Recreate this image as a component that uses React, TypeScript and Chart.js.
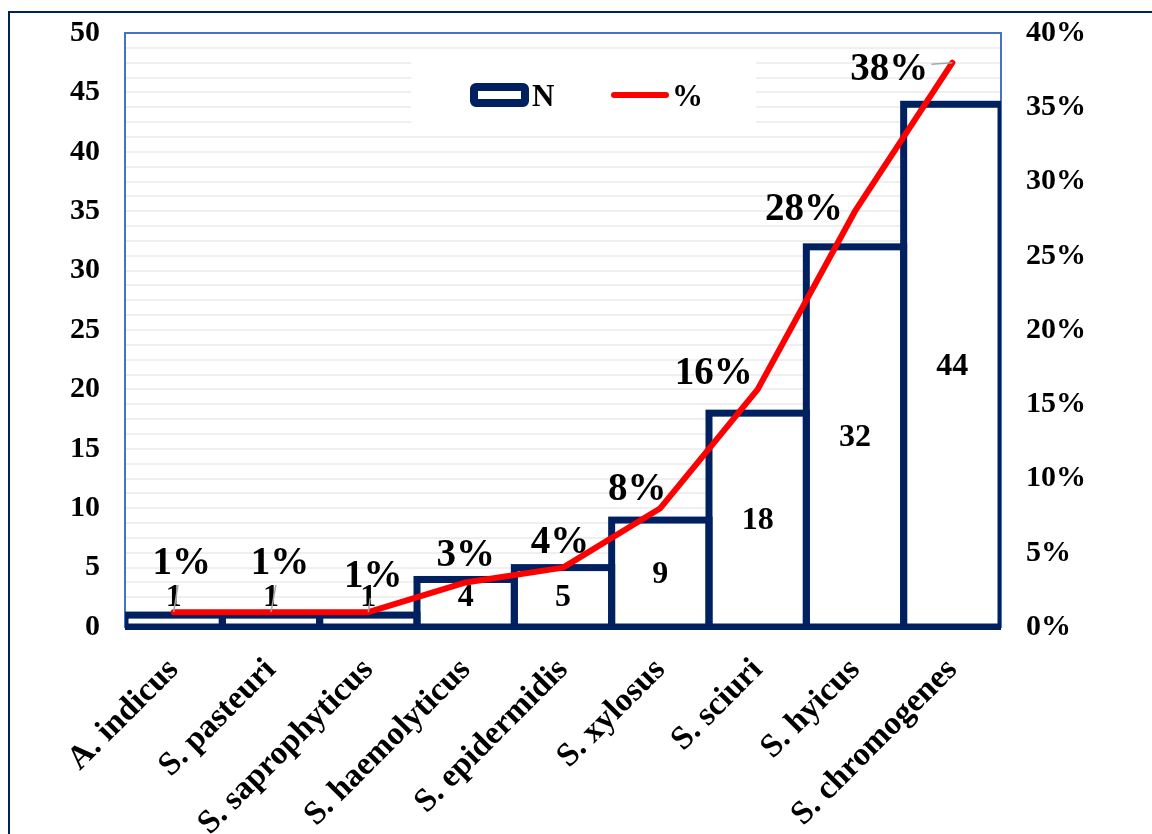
import React, { useEffect, useRef } from 'react';
import { Chart, registerables } from 'chart.js';

Chart.register(...registerables);

const categories = [
  'A. indicus',
  'S. pasteuri',
  'S. saprophyticus',
  'S. haemolyticus',
  'S. epidermidis',
  'S. xylosus',
  'S. sciuri',
  'S. hyicus',
  'S. chromogenes',
];
const countValues = [1, 1, 1, 4, 5, 9, 18, 32, 44];
const percentValues = [1, 1, 1, 3, 4, 8, 16, 28, 38];
const seriesNames = ['N', '%'];
const leftAxisMax = 50;
const leftAxisStep = 5;
const rightAxisMax = 40;
const rightAxisLabelStep = 5;

// label placement (style): offset of each % label from its point
const pctLabelOffsets: [number, number][] = [
  [8, -50], [9, -50], [5, -37], [0, -29], [-3, -27], [-23, -20], [-44, -17], [-51, -3], [-63, 5],
];

const NAVY = '#002060';
const RED = '#FF0000';
const FONT = "'Liberation Serif', 'Times New Roman', serif";

const barBorderPlugin = {
  id: 'barBorders',
  afterDatasetDraw(chart: any, args: any) {
    if (args.index !== 0) return;
    const { ctx, chartArea } = chart;
    const meta = chart.getDatasetMeta(0);
    ctx.save();
    ctx.beginPath();
    ctx.rect(chartArea.left, chartArea.top - 10, chartArea.right - chartArea.left, chartArea.bottom - chartArea.top + 13);
    ctx.clip();
    ctx.strokeStyle = NAVY;
    ctx.lineWidth = 7;
    ctx.lineJoin = 'miter';
    meta.data.forEach((el: any) => {
      const { x, y, base, width } = el.getProps(['x', 'y', 'base', 'width'], true);
      ctx.strokeRect(x - width / 2, y, width, base - y);
    });
    ctx.restore();
  },
};

const plotBorderPlugin = {
  id: 'plotBorder',
  beforeDatasetsDraw(chart: any) {
    const { ctx, chartArea } = chart;
    ctx.save();
    ctx.strokeStyle = '#4472C4';
    ctx.lineWidth = 2;
    ctx.strokeRect(chartArea.left, chartArea.top, chartArea.right - chartArea.left, chartArea.bottom - chartArea.top);
    ctx.restore();
  },
};

const labelsPlugin = {
  id: 'valueLabels',
  afterDraw(chart: any) {
    const { ctx, chartArea } = chart;
    ctx.save();
    // bar value labels
    const barMeta = chart.getDatasetMeta(0);
    ctx.fillStyle = '#000';
    ctx.textAlign = 'center';
    ctx.textBaseline = 'middle';
    ctx.font = `bold 32px ${FONT}`;
    barMeta.data.forEach((el: any, i: number) => {
      const { x, y, base } = el.getProps(['x', 'y', 'base'], true);
      const cy = Math.min((y + base) / 2, base - 30);
      ctx.fillText(String(countValues[i]), x, cy + 1);
    });
    // percent labels
    const lineMeta = chart.getDatasetMeta(1);
    ctx.font = `bold 39px ${FONT}`;
    lineMeta.data.forEach((pt: any, i: number) => {
      const { x, y } = pt.getProps(['x', 'y'], true);
      const [dx, dy] = pctLabelOffsets[i];
      const lx = x + dx;
      const ly = y + dy;
      const text = `${percentValues[i]}%`;
      const w = ctx.measureText(text).width;
      const hw = w / 2;
      const hh = 14;
      const gapX = Math.max(Math.abs(x - lx) - hw, 0);
      const gapY = Math.max(Math.abs(y - ly) - hh, 0);
      if (Math.max(gapX, gapY) > 20) {
        const bx = hw + 3;
        const by = hh + 9;
        const vx = lx - x;
        const vy = ly - y;
        const tx = Math.abs(vx) > bx ? (Math.abs(vx) - bx) / Math.abs(vx) : 0;
        const ty = Math.abs(vy) > by ? (Math.abs(vy) - by) / Math.abs(vy) : 0;
        const tt = Math.max(tx, ty);
        ctx.strokeStyle = '#A6A6A6';
        ctx.lineWidth = 1.5;
        ctx.beginPath();
        ctx.moveTo(x, y);
        ctx.lineTo(x + vx * tt, y + vy * tt);
        ctx.stroke();
      }
      ctx.fillStyle = '#000';
      ctx.fillText(text, lx, ly + 2);
    });

    // legend (inside plot area)
    const boxL = chartArea.left + 286;
    const boxT = chartArea.top + 19;
    ctx.fillStyle = '#FFFFFF';
    ctx.fillRect(boxL, boxT, 345, 80);
    const cy = chartArea.top + 62;
    ctx.strokeStyle = NAVY;
    ctx.lineWidth = 8;
    ctx.lineJoin = 'round';
    ctx.beginPath();
    const sx = boxL + 63;
    ctx.roundRect(sx, cy - 8, 51, 16, 2);
    ctx.stroke();
    ctx.fillStyle = '#000';
    ctx.textAlign = 'left';
    ctx.textBaseline = 'alphabetic';
    ctx.font = `bold 31px ${FONT}`;
    ctx.fillText(seriesNames[0], sx + 58, cy + 11);
    ctx.strokeStyle = RED;
    ctx.lineWidth = 6;
    ctx.lineCap = 'round';
    ctx.beginPath();
    ctx.moveTo(boxL + 203, cy);
    ctx.lineTo(boxL + 255, cy);
    ctx.stroke();
    ctx.fillText(seriesNames[1], boxL + 261, cy + 11);
    ctx.restore();
  },
};

export default function App() {
  const canvasRef = useRef<HTMLCanvasElement | null>(null);

  useEffect(() => {
    const canvas = canvasRef.current;
    if (!canvas) return;
    const tickFont = { family: FONT, size: 30, weight: 'bold' as const };
    const chart = new Chart(canvas, {
      type: 'bar',
      data: {
        labels: categories,
        datasets: [
          {
            type: 'bar',
            label: seriesNames[0],
            data: countValues,
            yAxisID: 'y',
            backgroundColor: '#FFFFFF',
            borderWidth: 0,
            barPercentage: 1,
            categoryPercentage: 1,
            order: 2,
          },
          {
            type: 'line',
            label: seriesNames[1],
            data: percentValues,
            yAxisID: 'y1',
            borderColor: RED,
            backgroundColor: RED,
            borderWidth: 6,
            pointRadius: 0,
            tension: 0,
            borderCapStyle: 'round',
            borderJoinStyle: 'round',
            order: 1,
          } as any,
        ],
      },
      options: {
        responsive: false,
        animation: false,
        devicePixelRatio: 1,
        events: [],
        layout: { padding: { top: 33, left: 0, right: 0, bottom: 0 } },
        plugins: { legend: { display: false }, tooltip: { enabled: false } },
        scales: {
          x: {
            grid: { display: false, drawTicks: false },
            border: { display: false },
            ticks: {
              color: '#000',
              font: { family: FONT, size: 33, weight: 'bold' },
              minRotation: 45,
              maxRotation: 45,
              autoSkip: false,
              padding: 24,
            },
            afterFit(scale: any) {
              scale.height = 207;
              scale.paddingLeft = 0;
              scale.paddingRight = 0;
            },
          },
          y: {
            position: 'left',
            min: 0,
            max: leftAxisMax,
            grid: { display: false, drawTicks: false },
            border: { display: false },
            ticks: { stepSize: leftAxisStep, color: '#000', font: tickFont, padding: 25 },
            afterFit(scale: any) {
              scale.width = 125;
              scale.paddingTop = 0;
              scale.paddingBottom = 0;
            },
          },
          y1: {
            position: 'right',
            min: 0,
            max: rightAxisMax,
            grid: { display: true, drawTicks: false, color: '#EFEFEF', lineWidth: 2 },
            border: { display: false },
            ticks: {
              stepSize: 1,
              autoSkip: false,
              color: '#000',
              font: tickFont,
              padding: 25,
              callback: (v: any) => (Number(v) % rightAxisLabelStep === 0 ? `${v}%` : ''),
            },
            afterFit(scale: any) {
              scale.width = 151;
              scale.paddingTop = 0;
              scale.paddingBottom = 0;
            },
          },
        },
      } as any,
      plugins: [plotBorderPlugin, barBorderPlugin, labelsPlugin],
    });
    return () => chart.destroy();
  }, []);

  return (
    <>
      <div
        style={{
          position: 'fixed',
          left: 8,
          top: 11,
          width: 1200,
          height: 900,
          border: `2px solid ${NAVY}`,
          boxSizing: 'border-box',
          background: '#fff',
        }}
      />
      <canvas
        ref={canvasRef}
        width={1152}
        height={834}
        style={{ position: 'fixed', left: 0, top: 0, width: 1152, height: 834 }}
      />
    </>
  );
}
